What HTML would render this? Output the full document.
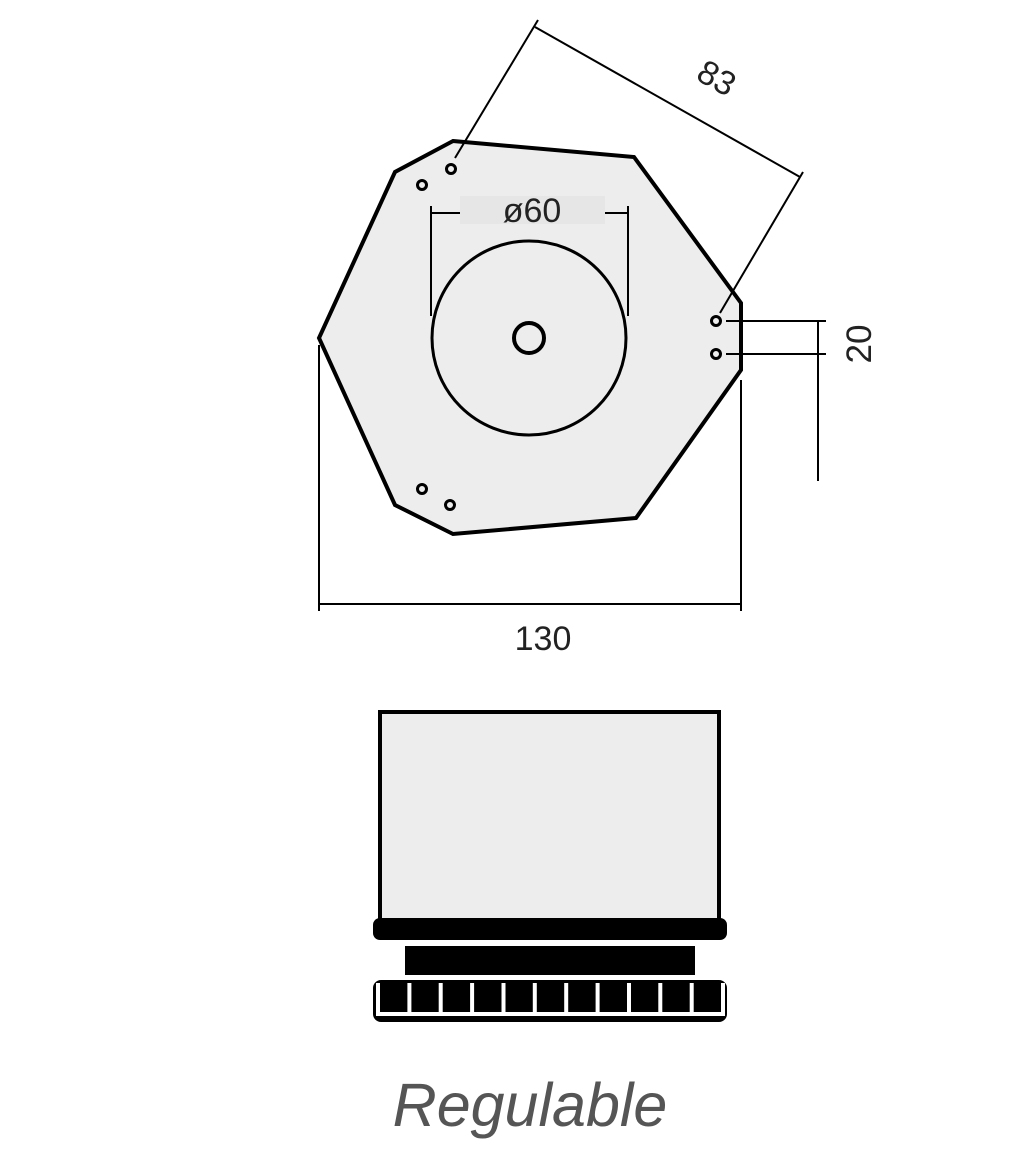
<!DOCTYPE html>
<html><head><meta charset="utf-8"><style>
html,body{margin:0;padding:0;background:#fff;width:1024px;height:1152px;overflow:hidden}
svg{display:block}
text{font-family:"Liberation Sans",sans-serif;fill:#222}
</style></head><body>
<svg width="1024" height="1152" viewBox="0 0 1024 1152">
<polygon points="453,141 634,157 741,303 741,370 636,518 453,534 395,505 319,338 395,172" fill="#ededed" stroke="#000" stroke-width="4" stroke-linejoin="miter"/>
<g fill="none" stroke="#000" stroke-width="3">
<circle cx="451" cy="169" r="4.5"/><circle cx="422" cy="185" r="4.5"/>
<circle cx="716" cy="321" r="4.5"/><circle cx="716" cy="354" r="4.5"/>
<circle cx="422" cy="489" r="4.5"/><circle cx="450" cy="505" r="4.5"/>
<circle cx="529" cy="338" r="97"/><circle cx="529" cy="338" r="15" stroke-width="4"/>
</g>
<rect x="460" y="196" width="145" height="28" fill="#e6e6e6"/>
<g stroke="#000" stroke-width="2" fill="none">
<line x1="431" y1="206" x2="431" y2="316"/><line x1="628" y1="206" x2="628" y2="316"/>
<line x1="431" y1="213" x2="460" y2="213"/><line x1="605" y1="213" x2="628" y2="213"/>
<line x1="455" y1="158" x2="538" y2="20"/><line x1="720" y1="313" x2="803" y2="172"/>
<line x1="535" y1="27" x2="800" y2="177"/>
<line x1="726" y1="321" x2="826" y2="321"/><line x1="726" y1="354" x2="826" y2="354"/>
<line x1="818" y1="321" x2="818" y2="481"/>
<line x1="319" y1="345" x2="319" y2="611"/><line x1="741" y1="380" x2="741" y2="611"/>
<line x1="319" y1="604" x2="741" y2="604"/>
</g>
<text x="532" y="222" font-size="34" text-anchor="middle">ø60</text>
<text x="0" y="0" font-size="34" text-anchor="middle" transform="translate(711,88) rotate(29.5)">83</text>
<text x="0" y="0" font-size="35" text-anchor="middle" transform="translate(871,344) rotate(-90)">20</text>
<text x="543" y="650" font-size="34" text-anchor="middle">130</text>
<rect x="380" y="712" width="339" height="210" fill="#ededed" stroke="#000" stroke-width="4"/>
<rect x="373" y="918" width="354" height="22" rx="7" fill="#000"/>
<rect x="405" y="946" width="290" height="29" fill="#000"/>
<rect x="373" y="980" width="354" height="42" rx="8" fill="#000"/>
<path d="M378,983 V1014 H723 V983 M409.4,983 V1014 M440.7,983 V1014 M472.1,983 V1014 M503.5,983 V1014 M534.8,983 V1014 M566.2,983 V1014 M597.6,983 V1014 M629,983 V1014 M660.3,983 V1014 M691.7,983 V1014" stroke="#fff" stroke-width="4" fill="none"/>
<text x="530" y="1126" font-size="61" font-style="italic" text-anchor="middle" style="fill:#555">Regulable</text>
</svg>
</body></html>
